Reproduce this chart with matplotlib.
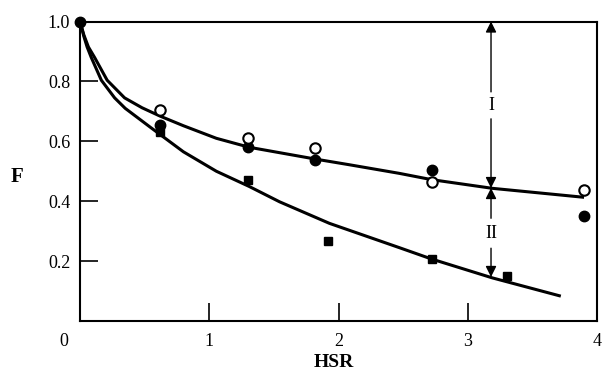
import matplotlib
matplotlib.use("Agg")
import matplotlib.pyplot as plt
from matplotlib.transforms import blended_transform_factory

plt.rcParams['font.family'] = ['Liberation Serif', 'DejaVu Serif']

# ---- data ----
filled_x = [0.0, 0.62, 1.30, 1.82, 2.72, 3.90]
filled_y = [1.0, 0.655, 0.58, 0.538, 0.505, 0.35]

open_x = [0.62, 1.30, 1.82, 2.72, 3.90]
open_y = [0.705, 0.61, 0.577, 0.463, 0.437]

square_x = [0.62, 1.30, 1.92, 2.72, 3.30]
square_y = [0.63, 0.47, 0.267, 0.206, 0.150]

upper_x = [0.0, 0.03, 0.065, 0.113, 0.21, 0.345, 0.48, 0.62, 0.80, 1.055, 1.31, 1.83, 2.08, 2.47, 2.72, 3.19, 3.90]
upper_y = [1.0, 0.955, 0.915, 0.88, 0.804, 0.745, 0.712, 0.684, 0.652, 0.61, 0.58, 0.54, 0.522, 0.493, 0.472, 0.443, 0.413]

lower_x = [0.0, 0.03, 0.055, 0.087, 0.165, 0.268, 0.35, 0.55, 0.80, 1.055, 1.31, 1.544, 1.93, 2.47, 2.72, 3.19, 3.72]
lower_y = [1.0, 0.95, 0.915, 0.88, 0.804, 0.745, 0.71, 0.645, 0.565, 0.50, 0.449, 0.398, 0.326, 0.245, 0.207, 0.144, 0.083]

xticks = [1, 2, 3, 4]
xtick_labels = ['1', '2', '3', '4']
yticks = [0.2, 0.4, 0.6, 0.8, 1.0]
ytick_labels = ['0.2', '0.4', '0.6', '0.8', '1.0']

arrow_x = 3.18
arrow_top = 1.0
arrow_mid = 0.444
arrow_bottom = 0.147
label_I_y = 0.72
label_II_y = 0.293

# ---- figure ----
fig = plt.figure(figsize=(6.03, 3.84), dpi=100)
ax = fig.add_axes([80 / 603, 63 / 384, 517 / 603, 299.5 / 384])

ax.plot(upper_x, upper_y, color='black', lw=2.2, solid_capstyle='butt', zorder=2)
ax.plot(lower_x, lower_y, color='black', lw=2.2, solid_capstyle='butt', zorder=2)

ax.plot(filled_x, filled_y, 'o', color='black', ms=7.5, zorder=4, clip_on=False)
ax.plot(open_x, open_y, 'o', mfc='white', mec='black', mew=1.5, ms=7.5, zorder=5, clip_on=False)
ax.plot(square_x, square_y, 's', color='black', ms=6, zorder=4, clip_on=False)

# arrows
ap = dict(arrowstyle='-|>', color='black', lw=1.0, mutation_scale=16,
          shrinkA=0, shrinkB=0)
ax.text(arrow_x, label_I_y, 'I', ha='center', va='center', fontsize=13)
ax.text(arrow_x, label_II_y, 'II', ha='center', va='center', fontsize=13)
gap1 = 0.045
gap2 = 0.05
ax.annotate('', xy=(arrow_x, arrow_top), xytext=(arrow_x, label_I_y + gap1), arrowprops=ap)
ax.annotate('', xy=(arrow_x, arrow_mid), xytext=(arrow_x, label_I_y - gap1), arrowprops=ap)
ax.annotate('', xy=(arrow_x, arrow_mid), xytext=(arrow_x, label_II_y + gap2), arrowprops=ap)
ax.annotate('', xy=(arrow_x, arrow_bottom), xytext=(arrow_x, label_II_y - gap2), arrowprops=ap)

ax.set_xlim(0, 4)
ax.set_ylim(0, 1.0)

ax.set_xticks(xticks)
ax.set_xticklabels(xtick_labels)
ax.set_yticks(yticks)
ax.set_yticklabels(ytick_labels)
ax.tick_params(direction='in', length=13, width=1.2, labelsize=13)
ax.tick_params(axis='x', pad=9)
ax.tick_params(axis='y', pad=7)

for s in ax.spines.values():
    s.set_linewidth(1.5)

trans = blended_transform_factory(ax.transAxes, ax.transAxes)
ax.text(-0.032, -0.07, '0', transform=trans, ha='center', va='center', fontsize=13)

ax.text(-0.122, 0.48, 'F', transform=ax.transAxes, ha='center', va='center',
        fontsize=15, fontweight='bold')
ax.text(0.49, -0.14, 'HSR', transform=ax.transAxes, ha='center', va='center',
        fontsize=14, fontweight='bold')

fig.savefig('out.png', dpi=100)
